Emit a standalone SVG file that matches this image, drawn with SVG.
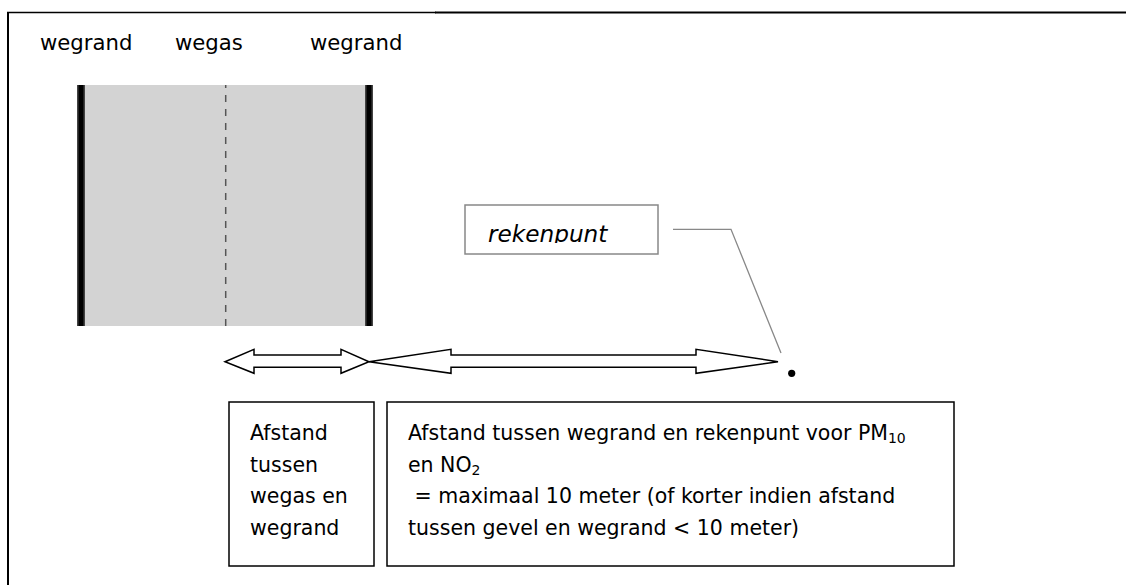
<svg xmlns="http://www.w3.org/2000/svg" width="1126" height="585" viewBox="0 0 1126 585">
<style>
  .t { font-family: "DejaVu Sans", "Liberation Sans", sans-serif; fill: #000; }
  .lbl { font-size: 21.2px; }
  .box { font-size: 20.5px; }
  .sub { font-size: 14px; }
  .frame { stroke: #000; fill: none; }
  .arrow { fill: #fff; stroke: #000; stroke-width: 1.5; stroke-linejoin: miter; }
  .lead { fill: none; stroke: #888; stroke-width: 1.3; }
  .nb { fill: #fff; stroke: #000; stroke-width: 1.5; }
</style>
<defs>
  <clipPath id="clipRek"><rect x="465" y="205" width="193" height="38"/></clipPath>
</defs>
<rect width="1126" height="585" fill="#fff"/>
<g id="frame">
  <line class="frame" x1="8" y1="12" x2="8" y2="585" stroke-width="2"/>
  <line class="frame" x1="7" y1="12.5" x2="436" y2="12.5" stroke-width="1.6"/>
  <line class="frame" x1="435" y1="12.5" x2="1126" y2="12.5" stroke-width="2.2" stroke="#222"/>
</g>
<g id="road">
  <rect x="77" y="85" width="296" height="241" fill="#d3d3d3"/>
  <rect x="77" y="85" width="8" height="241" fill="#444"/>
  <rect x="78.5" y="85" width="5" height="241" fill="#000"/>
  <rect x="365" y="85" width="8" height="241" fill="#444"/>
  <rect x="366.5" y="85" width="5" height="241" fill="#000"/>
  <line x1="225.7" y1="85" x2="225.7" y2="326" stroke="#555" stroke-width="1.5" stroke-dasharray="7 7" stroke-dashoffset="4"/>
</g>
<g id="labels">
  <text class="t lbl" x="40" y="50">wegrand</text>
  <text class="t lbl" x="175" y="50">wegas</text>
  <text class="t lbl" x="310" y="50">wegrand</text>
</g>
<g id="connectors">
  <polygon class="arrow" points="225,361.7 254,349.3 254,355 341,355 341,349.3 369,361.7 341,373.3 341,367.3 254,367.3 254,373.3"/>
  <polygon class="arrow" points="369,361.7 451,349.3 451,355 696,355 696,349.3 778,361.7 696,373.3 696,367.3 451,367.3 451,373.3"/>
  <polyline class="lead" points="673,229.3 731,229.3 781,353"/>
</g>
<g id="rekenpunt">
  <rect x="465" y="205" width="193" height="49" fill="#fff" stroke="#888" stroke-width="1.5"/>
  <text class="t" x="488" y="241.5" font-size="23.2" font-style="italic" clip-path="url(#clipRek)">rekenpunt</text>
</g>
<g id="punt">
  <circle cx="791.7" cy="373.3" r="3.6" fill="#000"/>
</g>
<g id="box-wegas">
  <rect class="nb" x="229" y="402" width="145" height="164"/>
  <text class="t box" x="250" y="440">Afstand</text>
  <text class="t box" x="250" y="472">tussen</text>
  <text class="t box" x="250" y="503">wegas en</text>
  <text class="t box" x="250" y="535">wegrand</text>
</g>
<g id="box-rekenpunt">
  <rect class="nb" x="387" y="402" width="567" height="164"/>
  <text class="t box" x="408" y="440">Afstand tussen wegrand en rekenpunt voor PM<tspan class="sub" dy="3">10</tspan></text>
  <text class="t box" x="408" y="472">en NO<tspan class="sub" dy="3">2</tspan></text>
  <text class="t box" x="408" y="503" xml:space="preserve"> = maximaal 10 meter (of korter indien afstand</text>
  <text class="t box" x="408" y="535">tussen gevel en wegrand &lt; 10 meter)</text>
</g>
</svg>
